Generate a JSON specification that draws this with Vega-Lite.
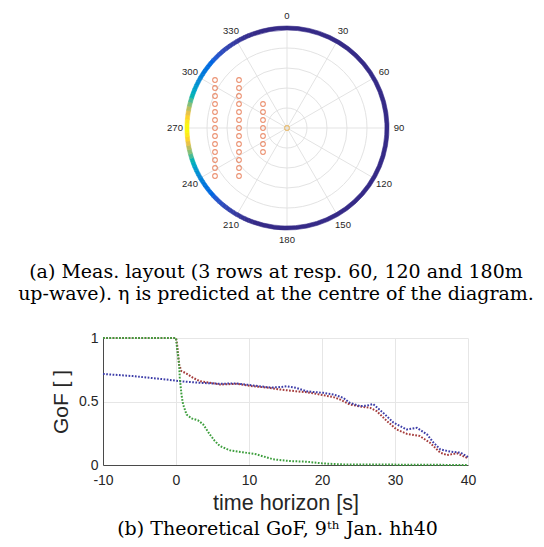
{
  "$schema": "https://vega.github.io/schema/vega-lite/v6.json",
  "padding": {"left": 18, "top": 10, "right": 0, "bottom": 0},
  "bounds": "flush",
  "spacing": 95,
  "config": {"view": {"stroke": null}, "font": "Liberation Sans"},
  "vconcat": [
    {
      "width": 368,
      "height": 230,
      "title": {
        "text": ["(a) Meas. layout (3 rows at resp. 60, 120 and 180m", "up-wave). η is predicted at the centre of the diagram."],
        "orient": "bottom", "anchor": "middle", "font": "DejaVu Serif", "fontSize": 19,
        "fontWeight": "normal", "color": "#000000", "lineHeight": 22, "offset": 18, "dx": -11
      },
      "layer": [
        {
          "data": {"values": [{"r": 50}]},
          "mark": {"type": "arc", "filled": false, "stroke": "#e3e3e3", "strokeWidth": 1},
          "encoding": {
            "theta": {"datum": 0, "type": "quantitative", "scale": {"domain": [0, 360]}},
            "theta2": {"datum": 360},
            "radius": {"datum": 50, "type": "quantitative", "scale": {"type": "linear", "domain": [0, 250], "range": [0, 100], "zero": true}}
          }
        },
        {
          "data": {"values": [{"r": 100}]},
          "mark": {"type": "arc", "filled": false, "stroke": "#e3e3e3", "strokeWidth": 1},
          "encoding": {
            "theta": {"datum": 0, "type": "quantitative", "scale": {"domain": [0, 360]}},
            "theta2": {"datum": 360},
            "radius": {"datum": 100, "type": "quantitative", "scale": {"type": "linear", "domain": [0, 250], "range": [0, 100], "zero": true}}
          }
        },
        {
          "data": {"values": [{"r": 150}]},
          "mark": {"type": "arc", "filled": false, "stroke": "#e3e3e3", "strokeWidth": 1},
          "encoding": {
            "theta": {"datum": 0, "type": "quantitative", "scale": {"domain": [0, 360]}},
            "theta2": {"datum": 360},
            "radius": {"datum": 150, "type": "quantitative", "scale": {"type": "linear", "domain": [0, 250], "range": [0, 100], "zero": true}}
          }
        },
        {
          "data": {"values": [{"r": 200}]},
          "mark": {"type": "arc", "filled": false, "stroke": "#e3e3e3", "strokeWidth": 1},
          "encoding": {
            "theta": {"datum": 0, "type": "quantitative", "scale": {"domain": [0, 360]}},
            "theta2": {"datum": 360},
            "radius": {"datum": 200, "type": "quantitative", "scale": {"type": "linear", "domain": [0, 250], "range": [0, 100], "zero": true}}
          }
        },
        {
          "data": {"values": [
            {"x1": 0, "y1": 250, "x2": 0, "y2": -250},
            {"x1": 125, "y1": 216.5, "x2": -125, "y2": -216.5},
            {"x1": 216.5, "y1": 125, "x2": -216.5, "y2": -125},
            {"x1": 250, "y1": 0, "x2": -250, "y2": 0},
            {"x1": 216.5, "y1": -125, "x2": -216.5, "y2": 125},
            {"x1": 125, "y1": -216.5, "x2": -125, "y2": 216.5}
          ]},
          "mark": {"type": "rule", "color": "#e3e3e3", "strokeWidth": 1},
          "encoding": {
            "x": {"field": "x1", "type": "quantitative", "scale": {"domain": [-460, 460], "nice": false, "zero": false}, "axis": null},
            "y": {"field": "y1", "type": "quantitative", "scale": {"domain": [-287.5, 287.5], "nice": false, "zero": false}, "axis": null},
            "x2": {"field": "x2"},
            "y2": {"field": "y2"}
          }
        },
        {
          "data": {"values": [
            {"t0": 340, "t1": 360, "d": 0},
            {"t0": 0, "t1": 200, "d": 0},
            {"t0": 200, "t1": 202.5, "d": 0.007},
            {"t0": 202.5, "t1": 205, "d": 0.012},
            {"t0": 205, "t1": 207.5, "d": 0.019},
            {"t0": 207.5, "t1": 210, "d": 0.026},
            {"t0": 210, "t1": 212.5, "d": 0.035},
            {"t0": 212.5, "t1": 215, "d": 0.045},
            {"t0": 215, "t1": 217.5, "d": 0.056},
            {"t0": 217.5, "t1": 220, "d": 0.069},
            {"t0": 220, "t1": 222.5, "d": 0.081},
            {"t0": 222.5, "t1": 225, "d": 0.094},
            {"t0": 225, "t1": 227.5, "d": 0.11},
            {"t0": 227.5, "t1": 230, "d": 0.13},
            {"t0": 230, "t1": 232.5, "d": 0.15},
            {"t0": 232.5, "t1": 235, "d": 0.17},
            {"t0": 235, "t1": 237.5, "d": 0.195},
            {"t0": 237.5, "t1": 240, "d": 0.225},
            {"t0": 240, "t1": 242.5, "d": 0.255},
            {"t0": 242.5, "t1": 245, "d": 0.29},
            {"t0": 245, "t1": 247.5, "d": 0.335},
            {"t0": 247.5, "t1": 250, "d": 0.39},
            {"t0": 250, "t1": 252.5, "d": 0.45},
            {"t0": 252.5, "t1": 255, "d": 0.52},
            {"t0": 255, "t1": 257.5, "d": 0.605},
            {"t0": 257.5, "t1": 260, "d": 0.7},
            {"t0": 260, "t1": 262.5, "d": 0.8},
            {"t0": 262.5, "t1": 265, "d": 0.89},
            {"t0": 265, "t1": 267.5, "d": 0.955},
            {"t0": 267.5, "t1": 270, "d": 0.99},
            {"t0": 270, "t1": 272.5, "d": 0.99},
            {"t0": 272.5, "t1": 275, "d": 0.955},
            {"t0": 275, "t1": 277.5, "d": 0.89},
            {"t0": 277.5, "t1": 280, "d": 0.8},
            {"t0": 280, "t1": 282.5, "d": 0.7},
            {"t0": 282.5, "t1": 285, "d": 0.605},
            {"t0": 285, "t1": 287.5, "d": 0.52},
            {"t0": 287.5, "t1": 290, "d": 0.45},
            {"t0": 290, "t1": 292.5, "d": 0.39},
            {"t0": 292.5, "t1": 295, "d": 0.335},
            {"t0": 295, "t1": 297.5, "d": 0.29},
            {"t0": 297.5, "t1": 300, "d": 0.255},
            {"t0": 300, "t1": 302.5, "d": 0.225},
            {"t0": 302.5, "t1": 305, "d": 0.195},
            {"t0": 305, "t1": 307.5, "d": 0.17},
            {"t0": 307.5, "t1": 310, "d": 0.15},
            {"t0": 310, "t1": 312.5, "d": 0.13},
            {"t0": 312.5, "t1": 315, "d": 0.11},
            {"t0": 315, "t1": 317.5, "d": 0.094},
            {"t0": 317.5, "t1": 320, "d": 0.081},
            {"t0": 320, "t1": 322.5, "d": 0.069},
            {"t0": 322.5, "t1": 325, "d": 0.056},
            {"t0": 325, "t1": 327.5, "d": 0.045},
            {"t0": 327.5, "t1": 330, "d": 0.035},
            {"t0": 330, "t1": 332.5, "d": 0.026},
            {"t0": 332.5, "t1": 335, "d": 0.019},
            {"t0": 335, "t1": 337.5, "d": 0.012},
            {"t0": 337.5, "t1": 340, "d": 0.007}
          ]},
          "mark": {"type": "arc", "strokeWidth": 0.6},
          "encoding": {
            "theta": {"field": "t0", "type": "quantitative", "scale": {"domain": [0, 360]}},
            "theta2": {"field": "t1"},
            "radius": {"datum": 245, "type": "quantitative", "scale": {"type": "linear", "domain": [0, 250], "range": [0, 100], "zero": true}},
            "radius2": {"datum": 255},
            "color": {"field": "d", "type": "quantitative", "legend": null,
              "scale": {"domain": [0, 1], "range": ["#352a87", "#0363e1", "#1485d4", "#06a7c6", "#38b99e", "#92bf73", "#d9ba56", "#fcce2e", "#f9fb0e"]}},
            "stroke": {"field": "d", "type": "quantitative", "legend": null,
              "scale": {"domain": [0, 1], "range": ["#352a87", "#0363e1", "#1485d4", "#06a7c6", "#38b99e", "#92bf73", "#d9ba56", "#fcce2e", "#f9fb0e"]}}
          }
        },
        {
          "data": {"values": [{"a": 0}, {"a": 30}, {"a": 60}, {"a": 90}, {"a": 120}, {"a": 150}, {"a": 180}, {"a": 210}, {"a": 240}, {"a": 270}, {"a": 300}, {"a": 330}]},
          "mark": {"type": "text", "fontSize": 9.5, "color": "#262626", "align": "center", "baseline": "middle"},
          "encoding": {
            "theta": {"field": "a", "type": "quantitative", "scale": {"domain": [0, 360]}},
            "radius": {"datum": 280, "type": "quantitative", "scale": {"type": "linear", "domain": [0, 250], "range": [0, 100], "zero": true}},
            "text": {"field": "a", "type": "quantitative", "format": "d"}
          }
        },
        {
          "data": {"values": [
            {"x": -60, "y": -60}, {"x": -60, "y": -40}, {"x": -60, "y": -20}, {"x": -60, "y": 0}, {"x": -60, "y": 20}, {"x": -60, "y": 40}, {"x": -60, "y": 60},
            {"x": -120, "y": -120}, {"x": -120, "y": -100}, {"x": -120, "y": -80}, {"x": -120, "y": -60}, {"x": -120, "y": -40}, {"x": -120, "y": -20}, {"x": -120, "y": 0},
            {"x": -120, "y": 20}, {"x": -120, "y": 40}, {"x": -120, "y": 60}, {"x": -120, "y": 80}, {"x": -120, "y": 100}, {"x": -120, "y": 120},
            {"x": -180, "y": -120}, {"x": -180, "y": -100}, {"x": -180, "y": -80}, {"x": -180, "y": -60}, {"x": -180, "y": -40}, {"x": -180, "y": -20}, {"x": -180, "y": 0},
            {"x": -180, "y": 20}, {"x": -180, "y": 40}, {"x": -180, "y": 60}, {"x": -180, "y": 80}, {"x": -180, "y": 100}, {"x": -180, "y": 120}
          ]},
          "mark": {"type": "point", "shape": "circle", "filled": false, "color": "#e4673a", "size": 22, "strokeWidth": 1.1},
          "encoding": {
            "x": {"field": "x", "type": "quantitative", "scale": {"domain": [-460, 460], "nice": false, "zero": false}, "axis": null},
            "y": {"field": "y", "type": "quantitative", "scale": {"domain": [-287.5, 287.5], "nice": false, "zero": false}, "axis": null}
          }
        },
        {
          "data": {"values": [{"x": 0, "y": 0}]},
          "mark": {"type": "point", "shape": "circle", "filled": false, "color": "#e6a73a", "size": 22, "strokeWidth": 1.1},
          "encoding": {
            "x": {"field": "x", "type": "quantitative", "scale": {"domain": [-460, 460], "nice": false, "zero": false}, "axis": null},
            "y": {"field": "y", "type": "quantitative", "scale": {"domain": [-287.5, 287.5], "nice": false, "zero": false}, "axis": null}
          }
        }
      ]
    },
    {
      "width": 365,
      "height": 127,
      "title": {
        "text": "(b) Theoretical GoF, 9ᵗʰ Jan. hh40",
        "orient": "bottom", "anchor": "middle", "font": "DejaVu Serif", "fontSize": 19,
        "fontWeight": "normal", "color": "#000000", "offset": 6, "dx": -8
      },
      "data": {"values": [
        {"s": "red", "t": -10, "v": 1}, {"s": "red", "t": 0, "v": 1}, {"s": "red", "t": 0.15, "v": 0.95}, {"s": "red", "t": 0.43, "v": 0.79},
        {"s": "red", "t": 0.75, "v": 0.74}, {"s": "red", "t": 1.44, "v": 0.72}, {"s": "red", "t": 2.35, "v": 0.686}, {"s": "red", "t": 3.26, "v": 0.66},
        {"s": "red", "t": 4.64, "v": 0.647}, {"s": "red", "t": 6.0, "v": 0.634}, {"s": "red", "t": 8.3, "v": 0.639}, {"s": "red", "t": 10.6, "v": 0.62},
        {"s": "red", "t": 12.9, "v": 0.607}, {"s": "red", "t": 14.2, "v": 0.595}, {"s": "red", "t": 16.5, "v": 0.58}, {"s": "red", "t": 17.9, "v": 0.573},
        {"s": "red", "t": 19.7, "v": 0.555}, {"s": "red", "t": 21.6, "v": 0.534}, {"s": "red", "t": 22.5, "v": 0.515}, {"s": "red", "t": 23.8, "v": 0.477},
        {"s": "red", "t": 25.2, "v": 0.461}, {"s": "red", "t": 26.6, "v": 0.45}, {"s": "red", "t": 27.5, "v": 0.424}, {"s": "red", "t": 28.9, "v": 0.346},
        {"s": "red", "t": 30.2, "v": 0.28}, {"s": "red", "t": 31.6, "v": 0.246}, {"s": "red", "t": 33.4, "v": 0.228}, {"s": "red", "t": 34.8, "v": 0.175},
        {"s": "red", "t": 36.2, "v": 0.097}, {"s": "red", "t": 37.1, "v": 0.079}, {"s": "red", "t": 38.5, "v": 0.092}, {"s": "red", "t": 40, "v": 0.053},
        {"s": "blue", "t": -10, "v": 0.717}, {"s": "blue", "t": -5.9, "v": 0.7}, {"s": "blue", "t": -1.3, "v": 0.673}, {"s": "blue", "t": 0.52, "v": 0.66},
        {"s": "blue", "t": 3.26, "v": 0.647}, {"s": "blue", "t": 6.0, "v": 0.64}, {"s": "blue", "t": 8.3, "v": 0.642}, {"s": "blue", "t": 10.6, "v": 0.626},
        {"s": "blue", "t": 12.9, "v": 0.61}, {"s": "blue", "t": 14.0, "v": 0.612}, {"s": "blue", "t": 15.2, "v": 0.62}, {"s": "blue", "t": 16.5, "v": 0.607},
        {"s": "blue", "t": 17.9, "v": 0.58}, {"s": "blue", "t": 20.2, "v": 0.568}, {"s": "blue", "t": 21.6, "v": 0.555}, {"s": "blue", "t": 22.9, "v": 0.529},
        {"s": "blue", "t": 23.8, "v": 0.49}, {"s": "blue", "t": 25.2, "v": 0.463}, {"s": "blue", "t": 26.2, "v": 0.468}, {"s": "blue", "t": 27.0, "v": 0.48},
        {"s": "blue", "t": 28.4, "v": 0.41}, {"s": "blue", "t": 29.8, "v": 0.333}, {"s": "blue", "t": 31.6, "v": 0.28}, {"s": "blue", "t": 33.0, "v": 0.293},
        {"s": "blue", "t": 34.4, "v": 0.24}, {"s": "blue", "t": 35.3, "v": 0.175}, {"s": "blue", "t": 36.2, "v": 0.123}, {"s": "blue", "t": 37.6, "v": 0.105},
        {"s": "blue", "t": 39.0, "v": 0.097}, {"s": "blue", "t": 40, "v": 0.063},
        {"s": "green", "t": -10, "v": 1}, {"s": "green", "t": 0, "v": 1}, {"s": "green", "t": 0.15, "v": 0.92}, {"s": "green", "t": 0.43, "v": 0.79},
        {"s": "green", "t": 0.52, "v": 0.686}, {"s": "green", "t": 0.75, "v": 0.555}, {"s": "green", "t": 0.97, "v": 0.477}, {"s": "green", "t": 1.44, "v": 0.398},
        {"s": "green", "t": 2.13, "v": 0.367}, {"s": "green", "t": 3.03, "v": 0.351}, {"s": "green", "t": 3.72, "v": 0.32}, {"s": "green", "t": 4.64, "v": 0.24},
        {"s": "green", "t": 5.3, "v": 0.19}, {"s": "green", "t": 6.0, "v": 0.15}, {"s": "green", "t": 7.4, "v": 0.115}, {"s": "green", "t": 9.2, "v": 0.1},
        {"s": "green", "t": 11, "v": 0.084}, {"s": "green", "t": 13.3, "v": 0.045}, {"s": "green", "t": 15.6, "v": 0.031}, {"s": "green", "t": 17.9, "v": 0.026},
        {"s": "green", "t": 20, "v": 0.013}, {"s": "green", "t": 22.5, "v": 0.005}, {"s": "green", "t": 30, "v": 0.003}, {"s": "green", "t": 40, "v": 0.0}
      ]},
      "mark": {"type": "line", "strokeWidth": 2, "strokeDash": [1.7, 1.5]},
      "encoding": {
        "x": {
          "field": "t", "type": "quantitative",
          "scale": {"domain": [-10, 40], "nice": false, "zero": false},
          "axis": {"values": [-10, 0, 10, 20, 30, 40], "labelExpr": "'' + datum.value", "title": "time horizon [s]", "titleFontSize": 21.5, "titleFontWeight": "normal",
            "titleColor": "#262626", "titlePadding": 5, "labelFontSize": 14, "labelColor": "#262626", "labelPadding": 8,
            "ticks": false, "grid": true, "gridColor": "#e6e6e6", "domainColor": "#4a4a4a", "labelFlush": false}
        },
        "y": {
          "field": "v", "type": "quantitative",
          "scale": {"domain": [0, 1], "nice": false},
          "axis": {"values": [0, 0.5, 1], "format": "~g", "title": "GoF [ ]", "titleFontSize": 21, "titleFontWeight": "normal",
            "titleColor": "#262626", "titlePadding": 7, "labelFontSize": 14, "labelColor": "#262626", "labelPadding": 5,
            "ticks": false, "grid": true, "gridColor": "#e6e6e6", "domainColor": "#4a4a4a"}
        },
        "color": {"field": "s", "type": "nominal", "legend": null,
          "scale": {"domain": ["blue", "red", "green"], "range": ["#3d3da8", "#a53b3b", "#3d9e3d"]}}
      }
    }
  ]
}
